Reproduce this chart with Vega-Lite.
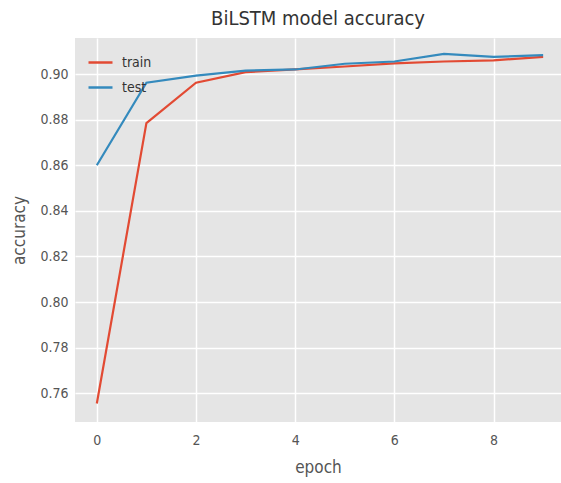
{
  "$schema": "https://vega.github.io/schema/vega-lite/v6.json",
  "width": 486,
  "height": 384,
  "autosize": {"type": "none"},
  "padding": {"left": 75, "top": 38, "right": 0, "bottom": 61},
  "background": "white",
  "title": {"text": "BiLSTM model accuracy", "fontSize": 20, "font": "DejaVu Sans Condensed", "fontWeight": "normal", "color": "#333333", "offset": 9, "anchor": "middle"},
  "config": {
    "view": {"fill": "#E5E5E5", "stroke": null},
    "font": "DejaVu Sans Condensed",
    "axis": {"domain": false, "ticks": false, "gridColor": "white", "gridWidth": 1.5, "gridOpacity": 1, "labelColor": "#555555", "labelFontSize": 14, "titleColor": "#555555", "titleFontSize": 17, "titleFontWeight": "normal", "labelFont": "DejaVu Sans Condensed", "titleFont": "DejaVu Sans Condensed"},
    "legend": {"labelFont": "DejaVu Sans Condensed"}
  },
  "data": {"values": [
    {"epoch": 0, "accuracy": 0.7555, "series": "train"},
    {"epoch": 1, "accuracy": 0.8785, "series": "train"},
    {"epoch": 2, "accuracy": 0.8962, "series": "train"},
    {"epoch": 3, "accuracy": 0.9008, "series": "train"},
    {"epoch": 4, "accuracy": 0.9020, "series": "train"},
    {"epoch": 5, "accuracy": 0.9033, "series": "train"},
    {"epoch": 6, "accuracy": 0.9047, "series": "train"},
    {"epoch": 7, "accuracy": 0.9055, "series": "train"},
    {"epoch": 8, "accuracy": 0.9060, "series": "train"},
    {"epoch": 9, "accuracy": 0.9075, "series": "train"},
    {"epoch": 0, "accuracy": 0.8600, "series": "test"},
    {"epoch": 1, "accuracy": 0.8962, "series": "test"},
    {"epoch": 2, "accuracy": 0.8993, "series": "test"},
    {"epoch": 3, "accuracy": 0.9015, "series": "test"},
    {"epoch": 4, "accuracy": 0.9020, "series": "test"},
    {"epoch": 5, "accuracy": 0.9045, "series": "test"},
    {"epoch": 6, "accuracy": 0.9055, "series": "test"},
    {"epoch": 7, "accuracy": 0.9088, "series": "test"},
    {"epoch": 8, "accuracy": 0.9075, "series": "test"},
    {"epoch": 9, "accuracy": 0.9083, "series": "test"}
  ]},
  "mark": {"type": "line", "strokeWidth": 2.2, "clip": true},
  "encoding": {
    "x": {"field": "epoch", "type": "quantitative", "scale": {"domain": [-0.44, 9.36], "nice": false, "zero": false}, "axis": {"values": [0, 2, 4, 6, 8], "labelPadding": 11, "titlePadding": 12, "grid": true, "labelFlush": false}, "title": "epoch"},
    "y": {"field": "accuracy", "type": "quantitative", "scale": {"domain": [0.7474, 0.9158], "nice": false, "zero": false}, "axis": {"values": [0.76, 0.78, 0.80, 0.82, 0.84, 0.86, 0.88, 0.90], "format": ".2f", "labelPadding": 7, "titlePadding": 11, "labelFlush": false}, "title": "accuracy"},
    "color": {"field": "series", "type": "nominal", "scale": {"domain": ["train", "test"], "range": ["#E24A33", "#348ABD"]},
      "legend": {"title": null, "orient": "none", "legendX": 12, "legendY": 11, "symbolType": "stroke", "symbolSize": 576, "symbolStrokeWidth": 2.5, "labelFontSize": 14, "labelColor": "#333333", "rowPadding": 4, "labelOffset": 8, "padding": 0}}
  }
}
